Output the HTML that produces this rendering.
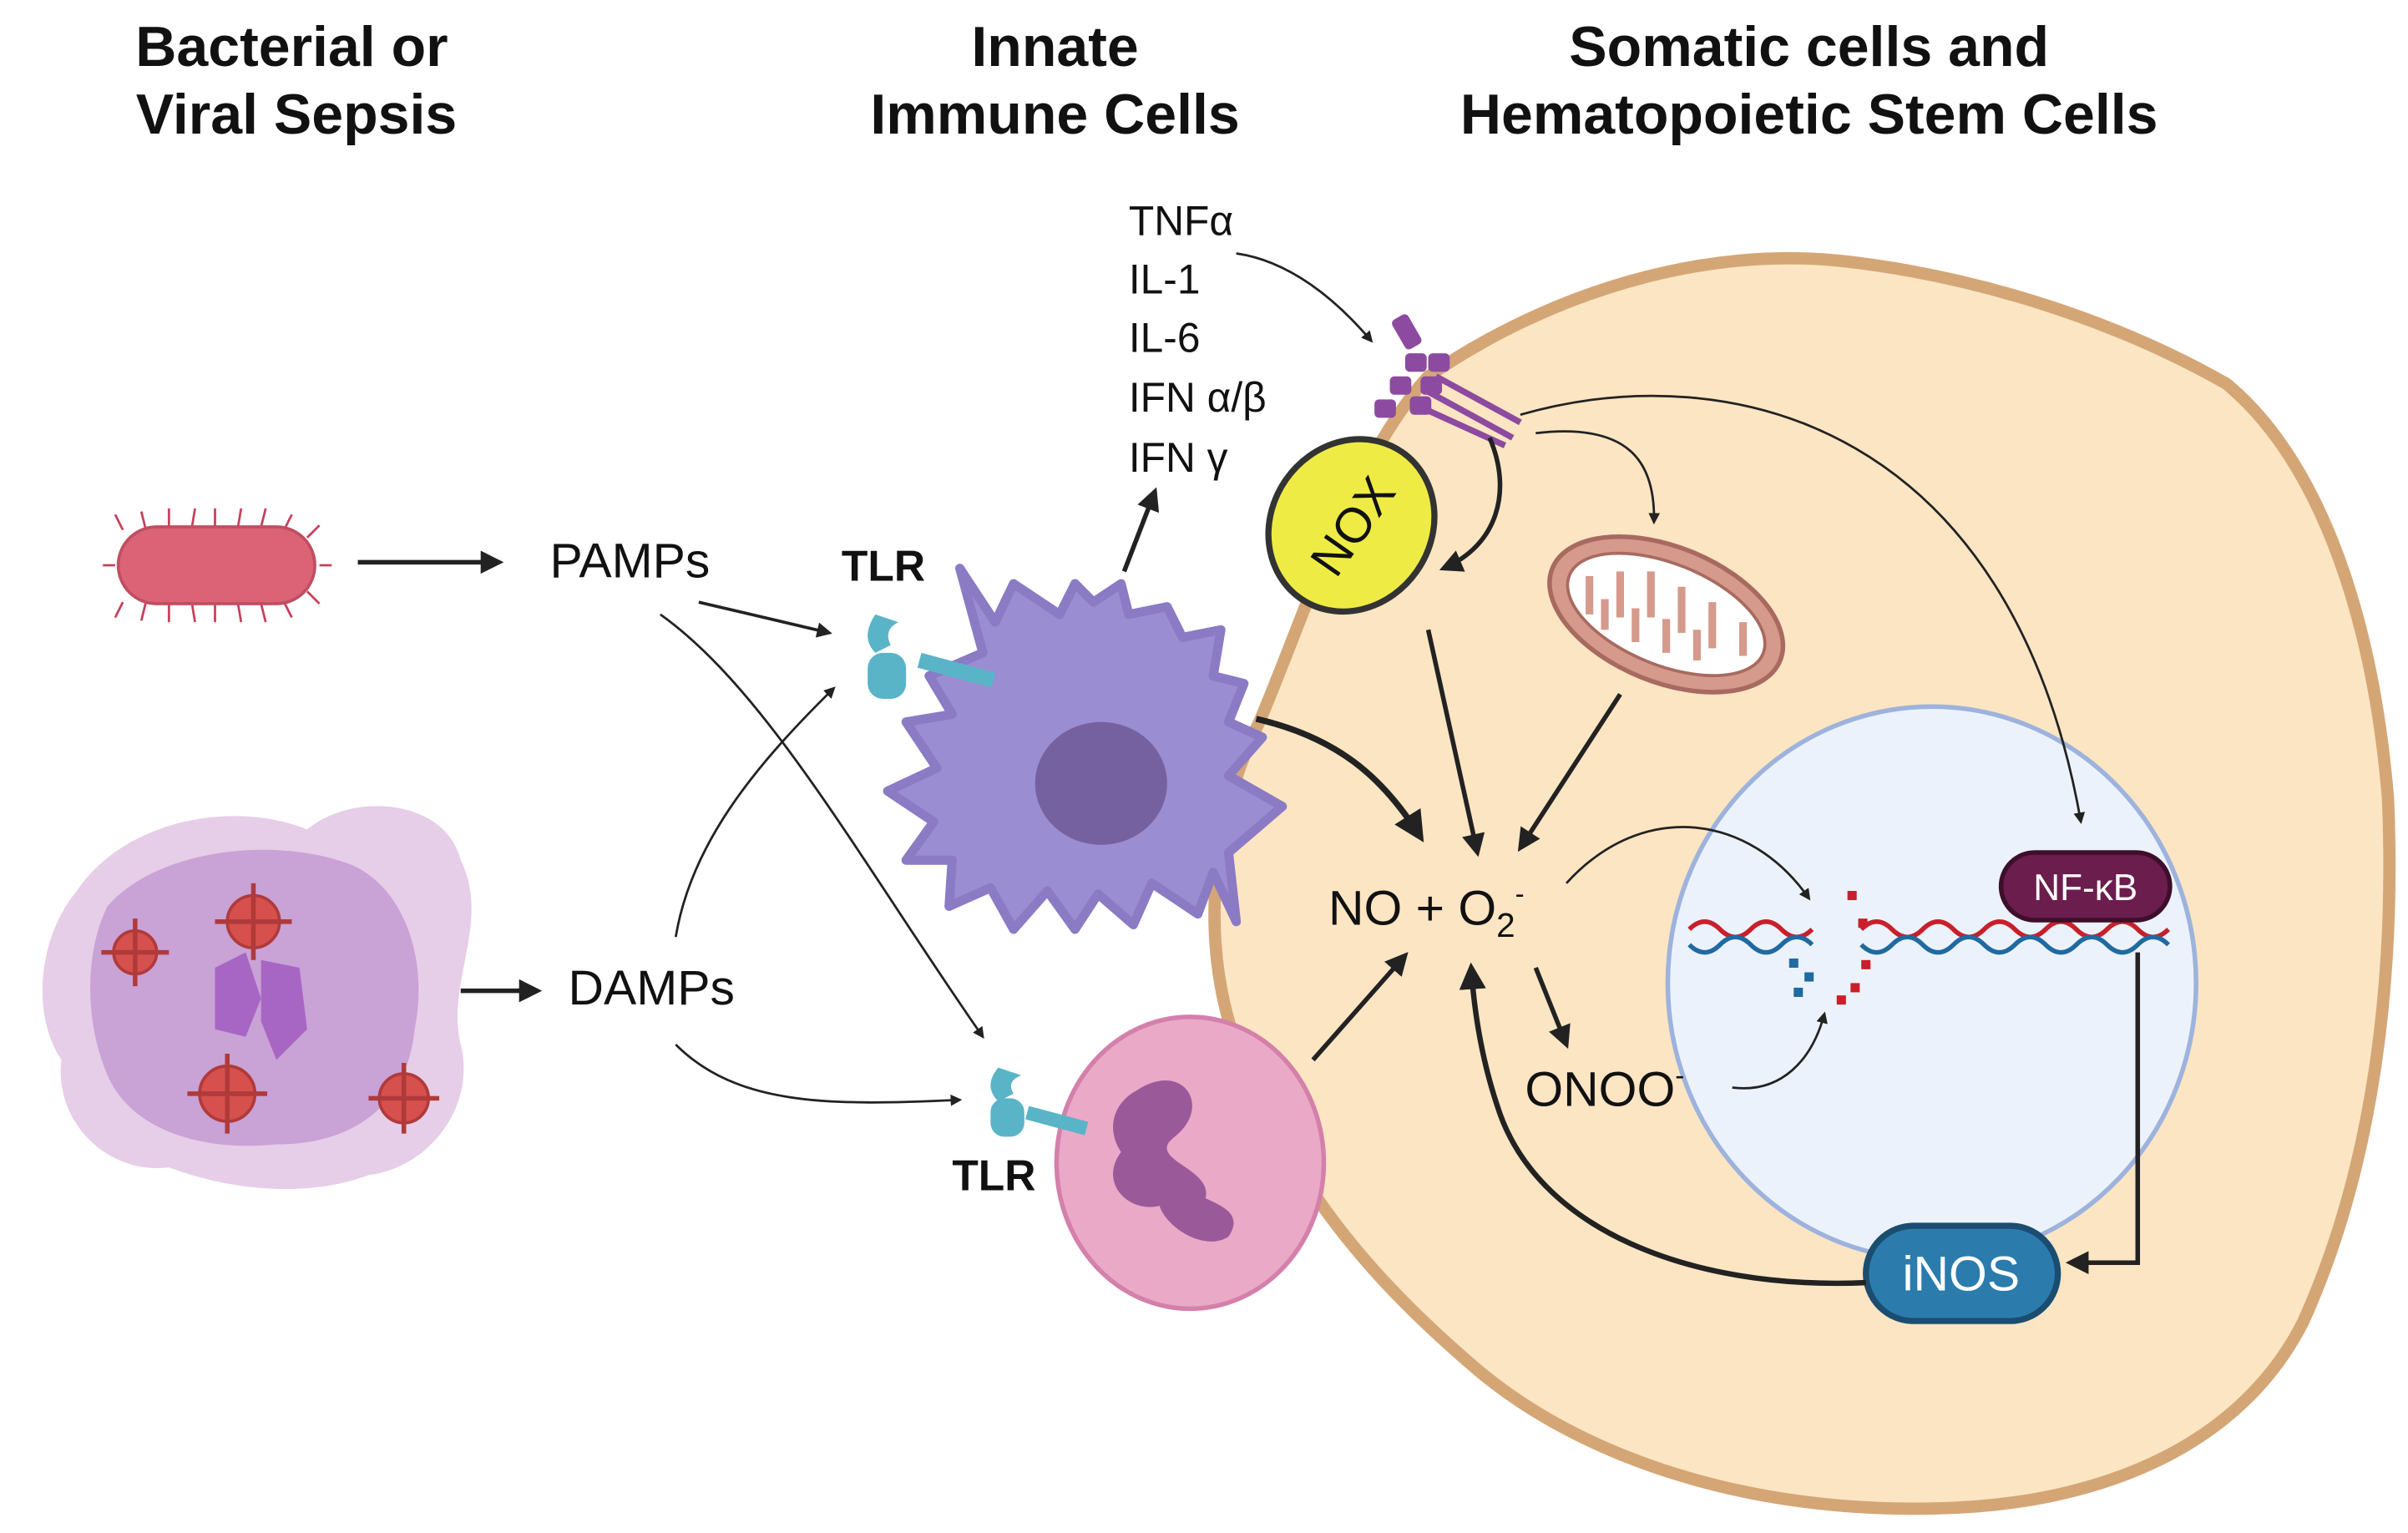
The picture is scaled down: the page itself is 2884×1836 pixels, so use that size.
<!DOCTYPE html>
<html><head><meta charset="utf-8"><style>
html,body{margin:0;padding:0;background:#fff;}
svg{display:block;}
text{font-family:"Liberation Sans",sans-serif;}
</style></head><body>
<svg width="2884" height="1836" viewBox="0 0 1568 998" preserveAspectRatio="none" xmlns="http://www.w3.org/2000/svg">
<defs>
<marker id="a" viewBox="0 0 10 10" refX="8" refY="5" markerWidth="5" markerHeight="5" orient="auto"><path d="M0,0 L10,5 L0,10 z" fill="#222"/></marker>
</defs>
<!-- titles -->
<g font-weight="bold" font-size="37" text-anchor="middle" fill="#111">
<text x="190" y="43">Bacterial or</text><text x="193" y="87">Viral Sepsis</text>
<text x="687" y="43">Innate</text><text x="687" y="87">Immune Cells</text>
<text x="1178" y="43">Somatic cells and</text><text x="1178" y="87">Hematopoietic Stem Cells</text>
</g>
<!-- big cell -->
<path d="M930,245 C1010,190 1110,160 1200,170 C1290,180 1380,210 1450,250 C1510,300 1545,400 1555,520 C1560,640 1545,760 1500,860 C1460,940 1370,980 1260,982 C1140,985 1030,950 960,890 C890,830 840,770 805,680 C780,610 790,530 820,470 C850,400 880,300 930,245 Z" fill="#fce5c3" stroke="#d4a676" stroke-width="8"/>
<!-- nucleus -->
<ellipse cx="1258" cy="640" rx="172" ry="180" fill="#ecf2fb" stroke="#9db3dd" stroke-width="3"/>
<!-- DNA -->
<g fill="none" stroke-width="3">
<path d="M1100,605 q10,-10 20,0 t20,0 t20,0 t20,0" stroke="#c8202a"/>
<path d="M1100,615 q10,10 20,0 t20,0 t20,0 t20,0" stroke="#1f6aa0"/>
<path d="M1212,605 q10,-10 20,0 t20,0 t20,0 t20,0 t20,0 t20,0 t20,0 t20,0 t20,0 t20,0" stroke="#c8202a"/>
<path d="M1212,615 q10,10 20,0 t20,0 t20,0 t20,0 t20,0 t20,0 t20,0 t20,0 t20,0 t20,0" stroke="#1f6aa0"/>
</g>
<g fill="#c8202a"><rect x="1203" y="580" width="6" height="6"/><rect x="1210" y="598" width="6" height="6"/><rect x="1205" y="640" width="6" height="6"/><rect x="1212" y="625" width="6" height="6"/><rect x="1196" y="648" width="6" height="6"/></g>
<g fill="#1f6aa0"><rect x="1165" y="624" width="6" height="6"/><rect x="1175" y="633" width="6" height="6"/><rect x="1168" y="643" width="6" height="6"/></g>
<!-- NF-kB -->
<rect x="1303" y="555" width="110" height="44" rx="22" fill="#6b1d4d" stroke="#3d0f2b" stroke-width="3"/>
<text x="1358" y="586" font-size="24" fill="#fff" text-anchor="middle">NF-κB</text>
<!-- iNOS -->
<rect x="1215" y="798" width="125" height="62" rx="31" fill="#2b7cad" stroke="#1a4d70" stroke-width="4"/>
<text x="1277" y="840" font-size="32" fill="#fff" text-anchor="middle">iNOS</text>
<!-- NOX -->
<ellipse cx="880" cy="342" rx="52" ry="58" transform="rotate(35 880 342)" fill="#eeec44" stroke="#333" stroke-width="4"/>
<text x="880" y="354" font-size="32" text-anchor="middle" transform="rotate(-55 880 342)" fill="#111">NOX</text>
<!-- mitochondria -->
<ellipse cx="1085" cy="400" rx="80" ry="44" transform="rotate(22 1085 400)" fill="#d59a8c" stroke="#a86a60" stroke-width="3"/>
<ellipse cx="1085" cy="400" rx="68" ry="33" transform="rotate(22 1085 400)" fill="#fff" stroke="#a86a60" stroke-width="2"/>
<g stroke="#d59a8c" stroke-width="5" fill="none"><path d="M1035,375 v25 M1055,372 v30 M1075,372 v30 M1095,382 v30 M1115,392 v30 M1135,405 v22 M1045,410 v-20 M1065,418 v-22 M1085,425 v-22 M1105,430 v-20"/></g>
<!-- receptor -->
<g fill="#8c4aa0"><rect x="910" y="205" width="12" height="22" rx="3" transform="rotate(-30 916 216)"/><rect x="930" y="230" width="14" height="12" rx="3"/><rect x="915" y="230" width="14" height="12" rx="3"/><rect x="905" y="245" width="14" height="12" rx="3"/><rect x="925" y="245" width="14" height="12" rx="3"/><rect x="895" y="260" width="14" height="12" rx="3"/><rect x="918" y="258" width="14" height="12" rx="3"/></g>
<g stroke="#8c4aa0" stroke-width="4"><path d="M935,245 L990,275 M930,255 L985,285 M925,265 L980,290"/></g>
<!-- dendritic cell -->
<path d="M700,380 L690,400 L660,380 L648,405 L625,370 L640,425 L605,440 L620,465 L590,470 L610,500 L578,515 L608,535 L590,560 L620,560 L618,590 L645,578 L660,605 L682,580 L700,605 L715,582 L738,602 L750,575 L780,595 L790,568 L805,600 L800,555 L835,525 L800,505 L822,480 L800,470 L810,445 L790,440 L795,410 L770,415 L760,395 L735,400 L730,380 L712,392 Z" fill="#9b8dd2" stroke="#8a7bc4" stroke-width="6" stroke-linejoin="round"/>
<ellipse cx="717" cy="510" rx="43" ry="40" fill="#75619f"/>
<!-- neutrophil -->
<ellipse cx="775" cy="757" rx="87" ry="95" fill="#eba9c8" stroke="#d480ab" stroke-width="3"/>
<path d="M740,710 C770,690 790,720 765,740 C745,755 790,760 785,780 C795,785 810,790 800,805 C785,815 760,800 755,785 C735,790 715,770 730,750 C720,735 725,718 740,710 Z" fill="#9a5a9a"/>
<!-- TLRs -->
<g fill="#5ab4c8"><path d="M570,400 q-10,15 0,25 l10,-5 q-5,-10 5,-15 z"/><rect x="565" y="425" width="25" height="30" rx="10"/><rect x="600" y="425" width="50" height="10" transform="rotate(15 600 425)"/></g>
<g fill="#5ab4c8"><path d="M650,695 q-10,12 0,22 l10,-5 q-5,-8 5,-12 z"/><rect x="645" y="715" width="22" height="25" rx="9"/><rect x="670" y="720" width="40" height="9" transform="rotate(15 670 720)"/></g>
<!-- bacterium -->
<g stroke="#c8405a" stroke-width="1.5"><path d="M80,345 l-5,-10 M95,345 l-3,-12 M110,343 l0,-12 M125,343 l2,-12 M140,343 l0,-12 M155,343 l2,-12 M170,343 l3,-12 M185,345 l5,-10 M200,350 l8,-8 M80,392 l-5,10 M95,392 l-3,12 M110,393 l0,12 M125,393 l2,12 M140,393 l0,12 M155,393 l2,12 M170,393 l3,12 M185,392 l5,10 M200,385 l8,8 M75,368 h-8 M208,368 h8"/></g>
<rect x="77" y="343" width="128" height="50" rx="25" fill="#dc6376" stroke="#c04e62" stroke-width="2"/>
<!-- dying cell -->
<path d="M50,580 C80,535 150,520 200,540 C230,515 290,520 300,560 C320,600 290,640 300,680 C310,720 280,760 240,765 C200,780 150,775 110,760 C70,765 35,730 40,690 C20,660 25,610 50,580 Z" fill="#e6cde8"/>
<path d="M70,590 C100,555 170,545 220,560 C260,570 280,620 270,670 C265,720 230,745 180,745 C130,750 85,735 70,700 C55,665 55,620 70,590 Z" fill="#c9a2d6"/>
<path d="M140,630 l20,-10 l10,30 l-10,25 l-20,-5 z M170,625 l25,5 l5,40 l-20,20 l-10,-25 z" fill="#a866c4"/>
<g fill="#d6504d" stroke="#b03a3a" stroke-width="2">
<circle cx="88" cy="620" r="14"/><circle cx="165" cy="600" r="17"/><circle cx="148" cy="712" r="18"/><circle cx="263" cy="715" r="16"/></g>
<g stroke="#b03a3a" stroke-width="3"><path d="M88,598 v44 M66,620 h44 M165,575 v50 M140,600 h50 M148,686 v52 M122,712 h52 M263,692 v46 M240,715 h46"/></g>
<!-- labels -->
<g font-size="32" fill="#111">
<text x="358" y="376">PAMPs</text><text x="370" y="654">DAMPs</text>
<text x="865" y="602">NO + O<tspan font-size="22" dy="8">2</tspan><tspan font-size="18" dy="-22">-</tspan></text>
<text x="993" y="720">ONOO<tspan font-size="18" dy="-14">-</tspan></text>
</g>
<g font-size="27" fill="#111">
<text x="735" y="153">TNFα</text><text x="735" y="191">IL-1</text><text x="735" y="229">IL-6</text><text x="735" y="268">IFN α/β</text><text x="735" y="307">IFN γ</text>
</g>
<g font-size="28" font-weight="bold" fill="#111"><text x="548" y="378">TLR</text><text x="620" y="775">TLR</text></g>
<!-- arrows -->
<g fill="none" stroke="#222">
<path d="M233,366 L325,366" stroke-width="3" marker-end="url(#a)"/>
<path d="M300,645 L350,645" stroke-width="3" marker-end="url(#a)"/>
<path d="M455,392 L540,412" stroke-width="2" marker-end="url(#a)"/>
<path d="M430,400 C500,450 560,560 640,675" stroke-width="1.5" marker-end="url(#a)"/>
<path d="M440,610 C450,550 490,500 543,448" stroke-width="1.5" marker-end="url(#a)"/>
<path d="M440,680 C480,720 540,720 625,716" stroke-width="1.5" marker-end="url(#a)"/>
<path d="M732,372 L752,320" stroke-width="3" marker-end="url(#a)"/>
<path d="M805,165 C840,170 870,195 893,222" stroke-width="1.5" marker-end="url(#a)"/>
<path d="M970,285 C985,320 975,355 940,370" stroke-width="3" marker-end="url(#a)"/>
<path d="M1000,282 C1060,275 1078,300 1077,340" stroke-width="1.5" marker-end="url(#a)"/>
<path d="M990,270 C1130,230 1310,280 1355,535" stroke-width="1.5" marker-end="url(#a)"/>
<path d="M818,468 C870,480 900,505 925,545" stroke-width="4" marker-end="url(#a)"/>
<path d="M930,410 L962,555" stroke-width="3" marker-end="url(#a)"/>
<path d="M1055,452 L990,552" stroke-width="3" marker-end="url(#a)"/>
<path d="M855,690 L915,622" stroke-width="3" marker-end="url(#a)"/>
<path d="M1000,630 L1020,680" stroke-width="3" marker-end="url(#a)"/>
<path d="M1020,575 C1070,520 1140,530 1178,585" stroke-width="1.5" marker-end="url(#a)"/>
<path d="M1128,708 C1160,712 1180,690 1188,660" stroke-width="1.5" marker-end="url(#a)"/>
<path d="M1392,620 L1392,822 L1348,822" stroke-width="3" marker-end="url(#a)"/>
<path d="M1215,835 C1100,840 1000,800 975,720 C965,690 960,660 958,630" stroke-width="3.5" marker-end="url(#a)"/>
</g>
</svg>
</body></html>
